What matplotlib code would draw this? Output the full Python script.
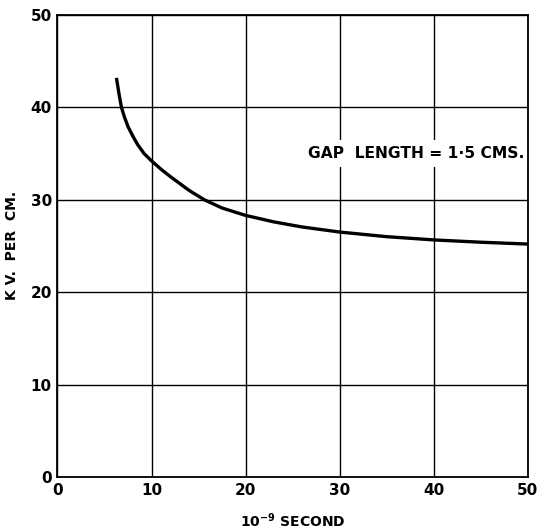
import matplotlib
matplotlib.use("Agg")
import matplotlib.pyplot as plt

# curva: tiempo (1e-9 s) vs campo (kV/cm)
tiempo = [6.3, 6.55, 6.8, 7.1, 7.5, 8.0, 8.5, 9.2, 10.0, 11.0, 12.0, 14.0, 15.6, 17.5, 20.0, 23.0, 26.0, 30.0, 35.0, 40.0, 45.0, 50.0]
campo = [43.0, 41.4, 40.0, 39.0, 37.9, 36.9, 36.0, 35.0, 34.2, 33.3, 32.5, 31.0, 30.0, 29.1, 28.3, 27.6, 27.05, 26.5, 26.0, 25.65, 25.4, 25.2]

ticks = [0, 10, 20, 30, 40, 50]
texto_gap = "GAP  LENGTH = 1·5 CMS."

plt.rcParams['font.family'] = ['DejaVu Sans']
plt.rcParams['font.weight'] = 'bold'

fig = plt.figure(figsize=(5.37, 5.30), dpi=100)
ax = fig.add_axes([0.107, 0.1, 0.876, 0.872])

ax.plot(tiempo, campo, color="black", linewidth=2.4, solid_joinstyle="round")

ax.set_xlim(0, 50)
ax.set_ylim(0, 50)
ax.set_xticks(ticks)
ax.set_yticks(ticks)
ax.grid(True, color="black", linewidth=1.0)
ax.set_axisbelow(True)
for s in ax.spines.values():
    s.set_linewidth(1.3)

ax.tick_params(length=0, labelsize=11, pad=4)
for lab in ax.get_xticklabels() + ax.get_yticklabels():
    lab.set_fontweight("bold")

ax.set_xlabel(r"10$^{\mathbf{-9}}$ SECOND", fontsize=10, fontweight="bold", labelpad=10)
ax.set_ylabel("K V.  PER  CM.", fontsize=10, fontweight="bold", labelpad=8)

# texto con fondo blanco, por debajo del borde del grafico
ax.text(26.6, 35.0, texto_gap, fontsize=11.2, fontweight="bold", va="center", ha="left",
        zorder=2.2, bbox=dict(facecolor="white", edgecolor="none", pad=4))

fig.savefig("out.png", dpi=100)
